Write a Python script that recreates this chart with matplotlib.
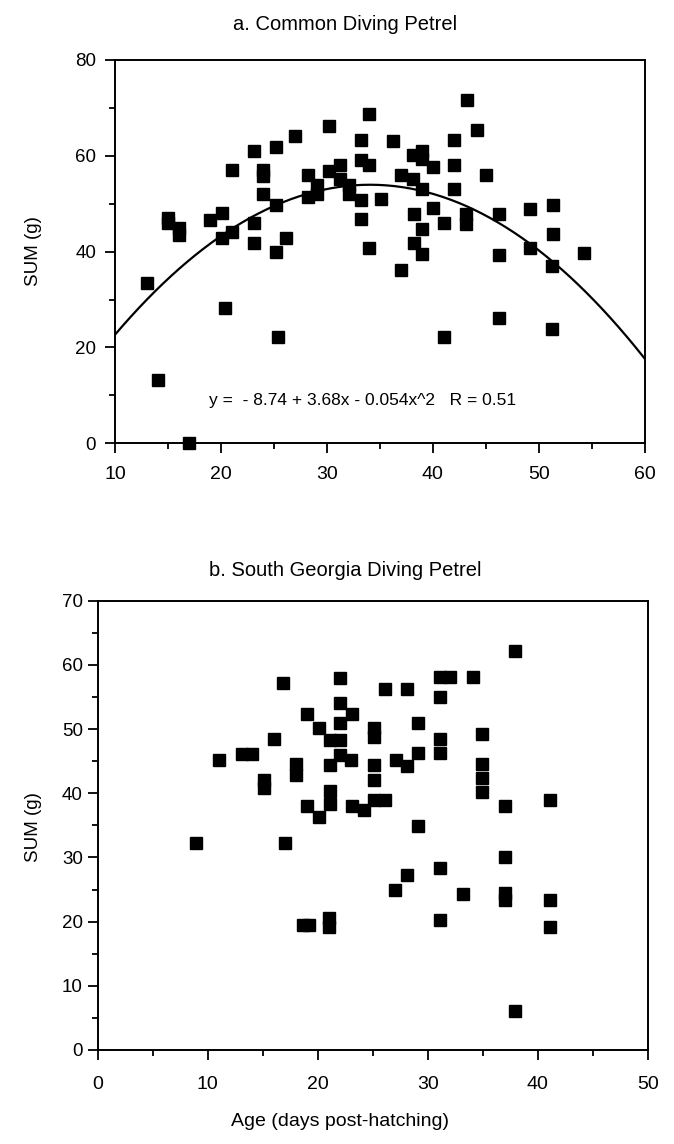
import numpy as np
import matplotlib
matplotlib.use("Agg")
import matplotlib.pyplot as plt
from matplotlib.ticker import MultipleLocator

plt.rcParams['font.family'] = ['Liberation Sans', 'DejaVu Sans']

# a. Common Diving Petrel (age in days, SUM in g)
age_a = [13.0, 14.1, 15.0, 15.0, 16.0, 16.0, 17.0, 19.0, 20.1, 20.1,
         20.4, 21.0, 21.0, 23.1, 23.1, 23.1, 24.0, 24.0, 24.0, 25.2,
         25.2, 25.2, 25.4, 26.1, 27.0, 28.2, 28.2, 29.1, 29.1, 30.2,
         30.2, 31.2, 31.2, 32.1, 32.1, 33.2, 33.2, 33.2, 33.2, 34.0,
         34.0, 34.0, 35.1, 36.2, 37.0, 37.0, 38.1, 38.1, 38.2, 38.2,
         39.0, 39.0, 39.0, 39.0, 39.0, 40.0, 40.0, 41.1, 41.1, 42.0,
         42.0, 42.0, 43.2, 43.1, 43.1, 44.2, 45.0, 46.2, 46.2, 46.2,
         49.2, 49.2, 51.3, 51.3, 51.2, 51.2, 54.3]
sum_a = [33.4, 13.2, 47.0, 46.0, 45.0, 43.4, 0.0, 46.5, 48.0, 42.9,
         28.3, 57.1, 44.0, 61.1, 46.0, 41.9, 57.1, 55.7, 52.1, 61.9,
         49.8, 39.9, 22.1, 42.8, 64.1, 55.9, 51.4, 53.8, 52.1, 66.2,
         56.9, 58.0, 55.2, 53.8, 52.1, 63.2, 59.2, 50.7, 46.9, 68.7,
         58.0, 40.8, 50.9, 63.0, 55.9, 36.2, 55.2, 60.1, 47.9, 41.8,
         61.1, 59.4, 53.1, 44.8, 39.4, 57.6, 49.0, 46.0, 22.1, 63.2,
         58.0, 53.1, 71.7, 47.9, 45.8, 65.3, 55.9, 47.9, 39.2, 26.2,
         48.8, 40.8, 49.7, 43.75, 37.1, 23.8, 39.7]
fit_coef = [-8.74, 3.68, -0.054]   # y = c0 + c1*x + c2*x^2

# b. South Georgia Diving Petrel
age_b = [8.95, 11.05, 13.1, 14.0, 15.1, 15.1, 16.0, 16.9, 17.0, 18.05,
         18.05, 18.7, 19.2, 19.0, 19.0, 20.1, 20.1, 21.1, 21.1, 21.1,
         21.1, 21.05, 21.05, 22.0, 22.0, 22.0, 22.0, 22.0, 23.1, 23.0,
         23.1, 24.2, 25.1, 25.1, 25.1, 25.1, 25.1, 26.1, 26.1, 27.1,
         27.05, 28.1, 28.1, 28.1, 29.1, 29.1, 29.1, 31.1, 31.1, 31.1,
         31.1, 31.1, 31.1, 32.0, 33.2, 34.1, 34.9, 34.9, 34.9, 34.9,
         37.05, 37.0, 37.0, 37.0, 37.95, 37.95, 41.1, 41.1, 41.1]
sum_b = [32.2, 45.2, 46.1, 46.1, 42.1, 40.8, 48.4, 57.2, 32.2, 44.5,
         42.8, 19.5, 19.5, 52.4, 38.0, 50.1, 36.3, 48.3, 44.4, 40.3,
         38.3, 20.5, 19.1, 58.0, 54.1, 51.0, 48.3, 46.0, 52.4, 45.2,
         38.0, 37.4, 50.1, 48.8, 44.4, 42.1, 38.9, 38.9, 56.3, 45.2,
         24.9, 56.3, 44.2, 27.3, 51.0, 46.2, 34.9, 58.1, 55.0, 48.4,
         46.2, 28.3, 20.25, 58.1, 24.3, 58.1, 49.3, 44.5, 42.3, 40.2,
         38.0, 30.0, 24.5, 23.3, 62.2, 6.0, 38.9, 23.4, 19.2]


def style_axes(ax, xpad, ypad):
    for s in ax.spines.values():
        s.set_linewidth(1.4)
    ax.tick_params(which='both', direction='out', top=False, right=False, width=1.3)
    ax.tick_params(which='major', length=7.5)
    ax.tick_params(which='minor', length=4)
    ax.tick_params(axis='x', labelsize=14, pad=xpad)
    ax.tick_params(axis='y', labelsize=13.5, pad=ypad)


fig = plt.figure(figsize=(6.74, 11.44), dpi=100)

# panel a
ax1 = fig.add_axes([0.1706, 0.6125, 0.786, 0.3351])
ax1.plot(age_a, sum_a, 's', color='black', markersize=8.5, clip_on=False, zorder=3)
xs = np.linspace(10, 60, 200)
ax1.plot(xs, fit_coef[0] + fit_coef[1] * xs + fit_coef[2] * xs ** 2, color='black', lw=1.6)
ax1.set_xlim(10, 60)
ax1.set_ylim(0, 80)
ax1.xaxis.set_major_locator(MultipleLocator(10))
ax1.xaxis.set_minor_locator(MultipleLocator(5))
ax1.yaxis.set_major_locator(MultipleLocator(20))
ax1.yaxis.set_minor_locator(MultipleLocator(10))
style_axes(ax1, 9, 6)
ax1.text(18.9, 9.0, 'y =  - 8.74 + 3.68x - 0.054x^2   R = 0.51', fontsize=12.5,
         va='center', ha='left')

# panel b
ax2 = fig.add_axes([0.1447, 0.0822, 0.8163, 0.3927])
ax2.plot(age_b, sum_b, 's', color='black', markersize=9, clip_on=False, zorder=3)
ax2.set_xlim(0, 50)
ax2.set_ylim(0, 70)
ax2.xaxis.set_major_locator(MultipleLocator(10))
ax2.xaxis.set_minor_locator(MultipleLocator(5))
ax2.yaxis.set_major_locator(MultipleLocator(10))
ax2.yaxis.set_minor_locator(MultipleLocator(5))
style_axes(ax2, 11, 3)

# titles and axis labels placed on the figure
fig.text(0.512, 1 - 25 / 1144, 'a. Common Diving Petrel', fontsize=14.5, ha='center', va='center')
fig.text(0.512, 1 - 570 / 1144, 'b. South Georgia Diving Petrel', fontsize=14.5, ha='center', va='center')
fig.text(33 / 674, 1 - 251 / 1144, 'SUM (g)', fontsize=13.5, rotation=90, ha='center', va='center')
fig.text(33 / 674, 1 - 827 / 1144, 'SUM (g)', fontsize=13.5, rotation=90, ha='center', va='center')
fig.text(340 / 674, 1 - 1122 / 1144, 'Age (days post-hatching)', fontsize=14, ha='center', va='center')

fig.savefig('out.png', dpi=100)
